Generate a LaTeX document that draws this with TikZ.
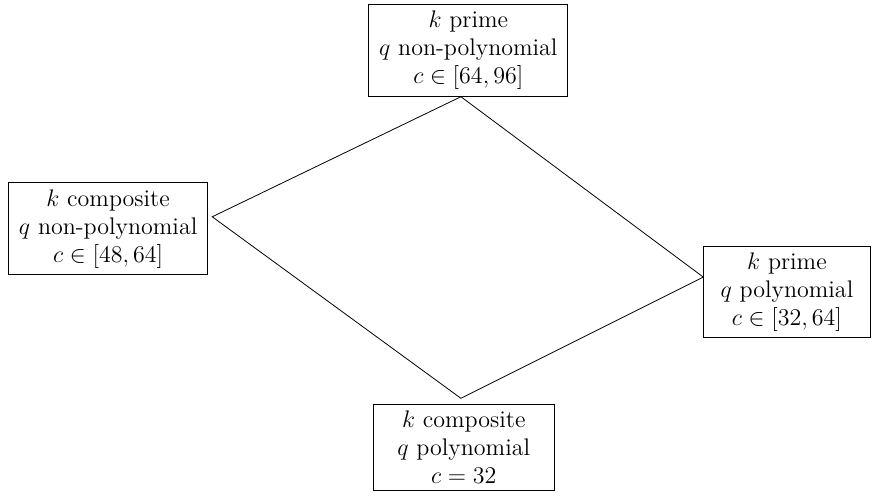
\documentclass[tikz,border=0pt]{standalone}
\usepackage{amsmath}
\usepackage{amssymb}
\usetikzlibrary{positioning}

\begin{document}
\begin{tikzpicture}[
    box/.style = {draw, align=center, font=\large, outer sep = 0mm,
        minimum width = 3.5cm}
  ]
  \useasboundingbox (0,0) rectangle (15.36,-8.73);

  % corners of the diamond
  \coordinate (T) at (8.10,-1.70);
  \coordinate (L) at (3.73,-3.81);
  \coordinate (B) at (8.10,-7.00);
  \coordinate (R) at (12.36,-4.87);

  \node[box] (PN) at (8.23,-0.89) {$k$ prime\\ $q$ non-polynomial\\ $c \in [64, 96]$};
  \node[box] (CN) at (1.90,-4.02) {$k$ composite\\ $q$ non-polynomial\\ $c \in [48, 64]$};
  \node[box, minimum width=2.95cm] (PP) at (13.83,-5.13) {$k$ prime\\ $q$ polynomial\\ $c \in [32, 64]$};
  \node[box, minimum width=3.18cm] (CP) at (8.15,-7.86) {$k$ composite\\ $q$ polynomial\\ $c = 32$};

  \draw (T) -- (L) -- (B) -- (R) -- (T);
\end{tikzpicture}
\end{document}
